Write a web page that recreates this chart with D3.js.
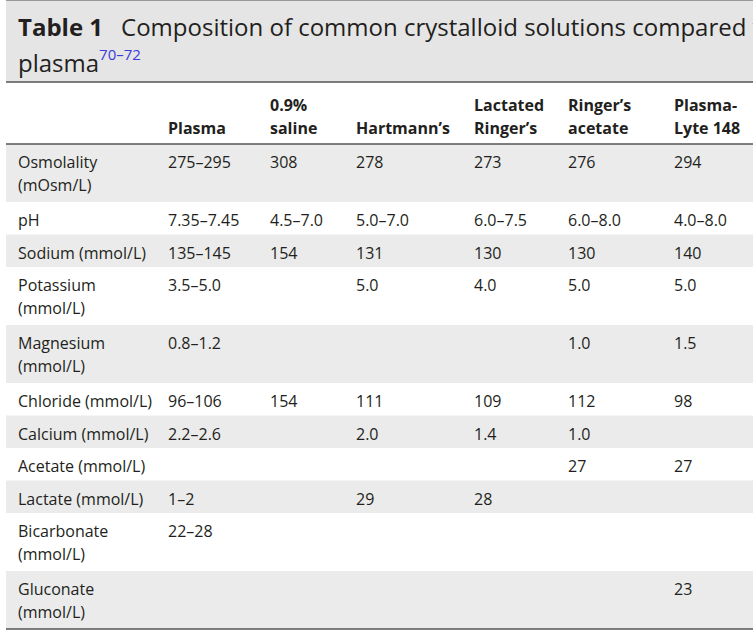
<!DOCTYPE html>
<html lang="en">
<head>
<meta charset="UTF-8">
<script src="https://d3js.org/d3.v7.min.js"></script>
<style>
  body { margin: 0; background: #fff; }
  svg text { font-family: "Open Sans", sans-serif; fill: #231f20; }
</style>
</head>
<body>
<svg id="chart" width="753" height="638"></svg>
<script>
// Table content
const columns = [["Plasma"], ["0.9%", "saline"], ["Hartmann\u2019s"], ["Lactated", "Ringer\u2019s"], ["Ringer\u2019s", "acetate"], ["Plasma-", "Lyte 148"]];
const rowLabels = [["Osmolality", "(mOsm/L)"], ["pH"], ["Sodium (mmol/L)"], ["Potassium", "(mmol/L)"], ["Magnesium", "(mmol/L)"], ["Chloride (mmol/L)"], ["Calcium (mmol/L)"], ["Acetate (mmol/L)"], ["Lactate (mmol/L)"], ["Bicarbonate", "(mmol/L)"], ["Gluconate", "(mmol/L)"]];
const values = [
  ["275\u2013295", "308", "278", "273", "276", "294"],
  ["7.35\u20137.45", "4.5\u20137.0", "5.0\u20137.0", "6.0\u20137.5", "6.0\u20138.0", "4.0\u20138.0"],
  ["135\u2013145", "154", "131", "130", "130", "140"],
  ["3.5\u20135.0", "", "5.0", "4.0", "5.0", "5.0"],
  ["0.8\u20131.2", "", "", "", "1.0", "1.5"],
  ["96\u2013106", "154", "111", "109", "112", "98"],
  ["2.2\u20132.6", "", "2.0", "1.4", "1.0", ""],
  ["", "", "", "", "27", "27"],
  ["1\u20132", "", "29", "28", "", ""],
  ["22\u201328", "", "", "", "", ""],
  ["", "", "", "", "", "23"]
];

const svg = d3.select("#chart");
const colX = [18, 168, 270, 356, 474, 568, 674];
const lineH = 23;
const headerTop = 82, headerBottom = 144, tableLeft = 6;

// Title block
svg.append("rect").attr("x", tableLeft).attr("y", 0).attr("width", 753).attr("height", headerTop).attr("fill", "#e5e5e5");
svg.append("line").attr("x1", tableLeft).attr("x2", 753).attr("y1", 0.5).attr("y2", 0.5).attr("stroke", "#999");
const t = svg.append("text").attr("x", 18).attr("y", 36).style("font-size", "24px");
t.append("tspan").style("font-weight", "bold").text("Table 1");
t.append("tspan").attr("dx", 18).text("Composition of common crystalloid solutions compared with");
const t2 = svg.append("text").attr("x", 18).attr("y", 72).style("font-size", "24px");
t2.append("tspan").text("plasma");
t2.append("tspan").attr("dy", -12).style("font-size", "15px").style("fill", "#3a3adb").text("70\u201372");

// Header
columns.forEach((c, i) => {
  c.forEach((s, j) => {
    svg.append("text").attr("x", colX[i + 1]).attr("y", headerBottom - 10 - (c.length - 1 - j) * lineH)
      .style("font-size", "16px").style("font-weight", "bold").text(s);
  });
});

// Body rows
const rowH = rowLabels.map(r => r.length === 2 ? 58 : 32.5);
let y = headerBottom;
rowLabels.forEach((lab, i) => {
  const h = rowH[i];
  if (i % 2 === 0) svg.append("rect").attr("x", tableLeft).attr("y", y).attr("width", 753).attr("height", h).attr("fill", "#ebebeb");
  lab.forEach((s, j) => svg.append("text").attr("x", colX[0]).attr("y", y + 24 + j * lineH).style("font-size", "16px").text(s));
  values[i].forEach((v, k) => svg.append("text").attr("x", colX[k + 1]).attr("y", y + 24).style("font-size", "16px").text(v));
  y += h;
});

// Rules
[headerTop, headerBottom, y].forEach(yy => svg.append("line").attr("x1", tableLeft).attr("x2", 753)
  .attr("y1", yy).attr("y2", yy).attr("stroke", "#555").attr("stroke-width", 1.5));
</script>
</body>
</html>
